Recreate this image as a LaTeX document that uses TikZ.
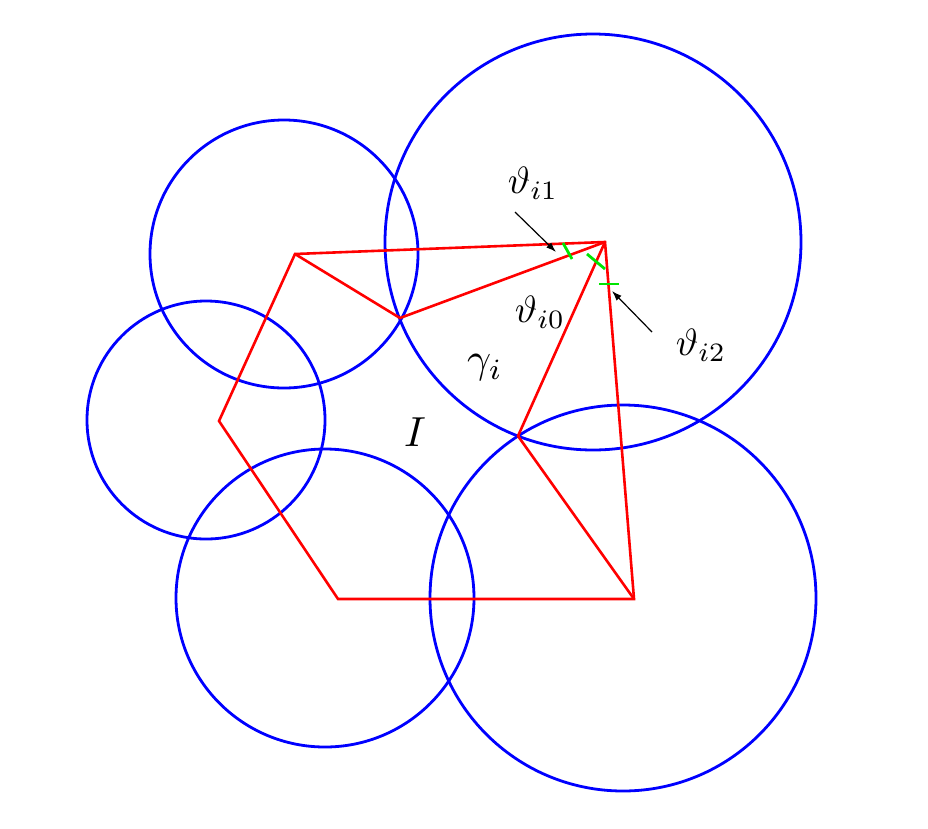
\documentclass[tikz,border=0pt]{standalone}
\usetikzlibrary{arrows.meta}
\newcommand{\biglab}[2]{\scalebox{#1}{$#2$}}
\begin{document}
\begin{tikzpicture}[x=1pt,y=-1pt,
  circ/.style={draw=blue,line width=2.8pt},
  poly/.style={draw=red,line width=2.6pt,line join=miter},
  tick/.style={draw=green!90!black,line width=2.8pt},
  lab/.style={inner sep=0pt},
  pointer/.style={draw=black,line width=1.2pt,-{Latex[length=10pt,width=7pt]}}]
\useasboundingbox (0,0) rectangle (928,828);
% circles
\draw[circ] (284,254) circle (134);
\draw[circ] (206,420) circle (119);
\draw[circ] (325,598) circle (149);
\draw[circ] (593,242) circle (208);
\draw[circ] (623,598) circle (193);
% vertices
\coordinate (A) at (295,254);
\coordinate (B) at (219,421);
\coordinate (C) at (338,599);
\coordinate (D) at (634,599);
\coordinate (E) at (605,242);
\coordinate (P) at (400,318);
\coordinate (Q) at (518,436);
\draw[poly] (A) -- (B) -- (C) -- (D) -- (E) -- cycle;
\draw[poly] (A) -- (P) -- (E);
\draw[poly] (E) -- (Q) -- (D);
% ticks
\coordinate (t1a) at (563,243); \coordinate (t1b) at (572,259);
\coordinate (t2a) at (587,254); \coordinate (t2b) at (605,269);
\coordinate (t3a) at (599,284); \coordinate (t3b) at (619,284);
\draw[tick] (t1a) -- (t1b);
\draw[tick] (t2a) -- (t2b);
\draw[tick] (t3a) -- (t3b);
% labels
\node[lab] (th1) at (533,183) {\biglab{3.8}{\vartheta_{i1}}};
\node[lab] (th0) at (540,312) {\biglab{3.8}{\vartheta_{i0}}};
\node[lab] (th2) at (701,345) {\biglab{3.8}{\vartheta_{i2}}};
\node[lab] (gam) at (485,368) {\biglab{4.2}{\gamma_i}};
\node[lab] (II) at (415,432) {\biglab{4.2}{I}};
% pointers
\coordinate (a1s) at (515,212); \coordinate (a1e) at (556,252);
\coordinate (a2s) at (652,332); \coordinate (a2e) at (612,291);
\draw[pointer] (a1s) -- (a1e);
\draw[pointer] (a2s) -- (a2e);
\end{tikzpicture}
\end{document}
